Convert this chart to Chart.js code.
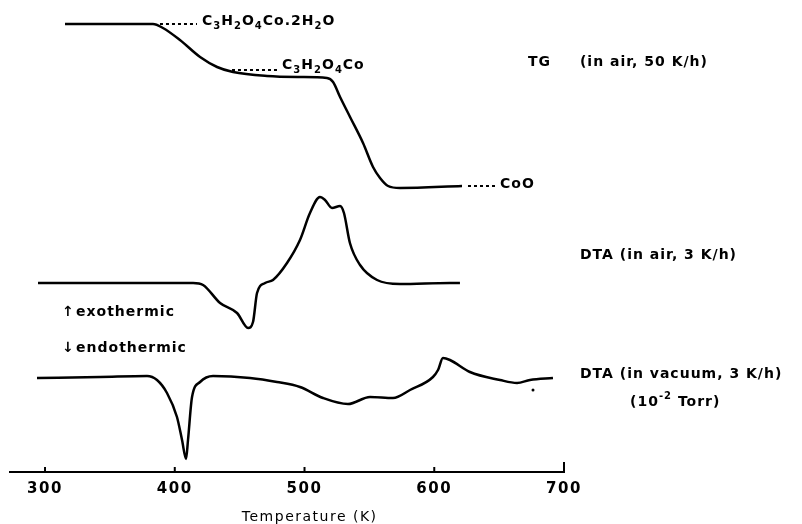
<!DOCTYPE html>
<html lang="en">
<head>
  <meta charset="UTF-8" />
  <title>TG / DTA of cobalt malonate</title>
  <script src="https://cdn.jsdelivr.net/npm/chart.js"></script>
  <style>
    body { margin: 0; background: #fff; }
    canvas { display: block; }
  </style>
</head>
<body>
  <canvas id="thermoChart" width="802" height="524"></canvas>

  <script>
    // Temperature axis
    const tickValues = [300, 400, 500, 600, 700];
    const axisTitle = 'Temperature (K)';

    // TG curve (in air, 50 K/h) - arbitrary height units
    const tgTemp   = [315.4, 383.2, 390.9, 404.0, 419.5, 432.6, 444.9, 471.1, 496.5, 517.3, 522.0, 527.4, 535.1, 545.1, 552.8, 558.2, 564.4, 573.6, 621.4];
    const tgSignal = [448,   448,   444,   432,   415,   405,   400,   396,   395,   394,   390,   375,   355,   329,   305,   294,   286,   284,   286];

    // DTA curve (in air, 3 K/h)
    const dtaAirTemp   = [294.6, 414.1, 421.8, 434.9, 448.0, 456.5, 460.3, 463.4, 469.6, 475.7, 486.5, 496.5, 504.2, 511.9, 515.8, 521.2, 527.4, 530.4, 535.0, 542.8, 555.9, 573.6, 612.1, 619.8];
    const dtaAirSignal = [189,   189,   187,   169,   159,   144,   150,   179,   189,   192,   209,   232,   259,   275,   272,   264,   266,   259,   229,   207,   192,   188,   189,   189];

    // DTA curve (in vacuum, 3 K/h, 10^-2 Torr)
    const dtaVacTemp   = [293.8, 342.4, 378.6, 386.3, 394.0, 401.7, 405.6, 408.7, 410.2, 413.3, 419.5, 429.5, 458.0, 478.8, 496.5, 514.3, 533.5, 550.5, 568.2, 581.3, 599.0, 602.9, 606.7, 612.1, 627.5, 650.7, 663.8, 673.8, 691.5];
    const dtaVacSignal = [94,    95,    96,    92,    79,    55,    32,    13,    32,    75,    90,    96,    94,    90,    85,    74,    68,    75,    74,    82,    95,    102,   114,   112,   100,   92,    89,    92,    94];

    // dotted leader lines to the composition labels
    const leaderHydrate = [[388.6, 448], [417.1, 448]];
    const leaderAnhydr  = [[444.1, 402], [478.8, 402]];
    const leaderOxide   = [[626.0, 286], [649.0, 286]];
    const strayDot      = [[676.1, 82]];

    const toPoints = (xs, ys) => xs.map((x, i) => ({ x: x, y: ys[i] }));
    const pairPoints = arr => arr.map(p => ({ x: p[0], y: p[1] }));

    const FONT = '"DejaVu Sans", sans-serif';

    const curveStyle = {
      borderColor: '#000',
      borderWidth: 2.5,
      pointRadius: 0,
      fill: false,
      cubicInterpolationMode: 'monotone'
    };
    const dotStyle = {
      borderColor: '#000',
      borderWidth: 2,
      borderDash: [3, 3],
      pointRadius: 0,
      fill: false
    };

    // text labels: pieces at (temperature, height); piece = [string, 'sub'|'sup'|null]
    const annotations = [
      { parts: [['C', null], ['3', 'sub'], ['H', null], ['2', 'sub'], ['O', null], ['4', 'sub'], ['Co.2H', null], ['2', 'sub'], ['O', null]], x: 421.0, y: 451 },
      { parts: [['C', null], ['3', 'sub'], ['H', null], ['2', 'sub'], ['O', null], ['4', 'sub'], ['Co', null]], x: 482.7, y: 407 },
      { parts: [['TG', null]], x: 672.3, y: 410 },
      { parts: [['(in air, 50 K/h)', null]], x: 712.3, y: 410 },
      { parts: [['CoO', null]], x: 650.7, y: 288 },
      { parts: [['DTA (in air, 3 K/h)', null]], x: 712.3, y: 217 },
      { parts: [['DTA (in vacuum, 3 K/h)', null]], x: 712.3, y: 98 },
      { parts: [['(10', null], ['-2', 'sup'], [' Torr)', null]], x: 750.9, y: 70 },
      { parts: [['↑', null]], x: 313.1, y: 160 },
      { parts: [['exothermic', null]], x: 323.9, y: 160 },
      { parts: [['↓', null]], x: 313.1, y: 124 },
      { parts: [['endothermic', null]], x: 323.9, y: 124 }
    ];

    const spacingPlugin = {
      id: 'spacing',
      beforeDraw(chart) {
        chart.ctx.letterSpacing = '1.5px';
      }
    };

    const decorPlugin = {
      id: 'decor',
      afterDraw(chart) {
        const c = chart.ctx;
        const xs = chart.scales.x;
        const ys = chart.scales.y;
        const bottom = chart.chartArea.bottom;
        c.save();
        // inward (upward) tick marks
        c.strokeStyle = '#000';
        c.lineWidth = 2;
        tickValues.forEach((v, i) => {
          const px = xs.getPixelForValue(v);
          const len = i === tickValues.length - 1 ? 10 : 5;
          c.beginPath();
          c.moveTo(px, bottom);
          c.lineTo(px, bottom - len);
          c.stroke();
        });
        // annotations
        c.fillStyle = '#000';
        c.textBaseline = 'middle';
        c.textAlign = 'left';
        c.letterSpacing = '1px';
        annotations.forEach(a => {
          let px = xs.getPixelForValue(a.x);
          const py = ys.getPixelForValue(a.y);
          a.parts.forEach(([txt, kind]) => {
            let dy = 0;
            if (kind) {
              c.font = 'bold 10px ' + FONT;
              dy = kind === 'sub' ? 5 : -6;
            } else {
              c.font = 'bold 14px ' + FONT;
            }
            c.fillText(txt, px, py + dy);
            px += c.measureText(txt).width;
          });
        });
        // axis title, centred a little right of the plot centre as in the original
        c.font = '14px ' + FONT;
        c.letterSpacing = '1.5px';
        c.textAlign = 'center';
        c.fillText(axisTitle, xs.getPixelForValue(504), bottom + 45);
        c.restore();
      }
    };

    const ctx = document.getElementById('thermoChart').getContext('2d');

    const chart = new Chart(ctx, {
      type: 'line',
      data: {
        datasets: [
          Object.assign({ label: 'TG (in air, 50 K/h)', data: toPoints(tgTemp, tgSignal) }, curveStyle),
          Object.assign({ label: 'DTA (in air, 3 K/h)', data: toPoints(dtaAirTemp, dtaAirSignal) }, curveStyle),
          Object.assign({ label: 'DTA (in vacuum, 3 K/h)', data: toPoints(dtaVacTemp, dtaVacSignal) }, curveStyle),
          Object.assign({ label: 'hydrate', data: pairPoints(leaderHydrate) }, dotStyle),
          Object.assign({ label: 'anhydrous', data: pairPoints(leaderAnhydr) }, dotStyle),
          Object.assign({ label: 'oxide', data: pairPoints(leaderOxide) }, dotStyle),
          { label: 'dot', data: pairPoints(strayDot), showLine: false, pointRadius: 1.5, pointBackgroundColor: '#000', pointBorderWidth: 0 }
        ]
      },
      options: {
        responsive: false,
        animation: false,
        layout: { padding: { left: 10, right: 238, top: 10, bottom: 0 } },
        plugins: {
          legend: { display: false },
          tooltip: { enabled: false }
        },
        scales: {
          x: {
            type: 'linear',
            min: 273,
            max: 700,
            afterBuildTicks: s => { s.ticks = tickValues.map(v => ({ value: v })); },
            afterFit: s => { s.height = 52; },
            grid: { display: true, drawOnChartArea: false, drawTicks: false },
            border: { display: true, color: '#000', width: 2 },
            ticks: { color: '#000', font: { family: FONT, size: 15, weight: 'bold' }, padding: 8, maxRotation: 0 },
            title: { display: false }
          },
          y: { display: false, min: 0, max: 462 }
        }
      },
      plugins: [spacingPlugin, decorPlugin]
    });
  </script>
</body>
</html>
